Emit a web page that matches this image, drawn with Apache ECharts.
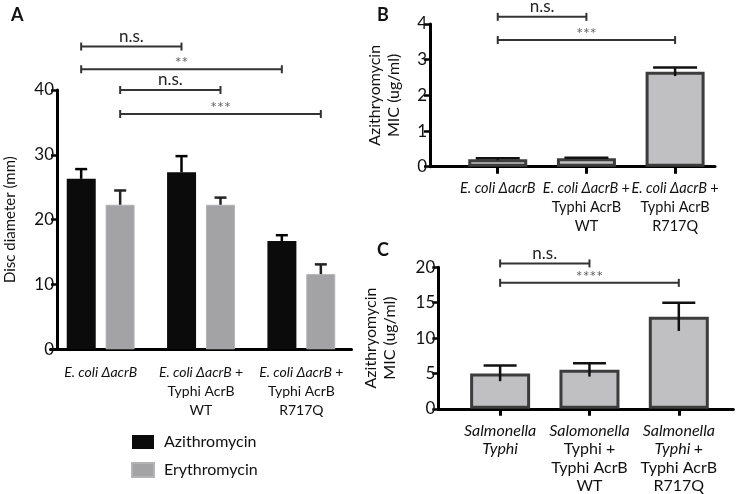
<!DOCTYPE html>
<html>
<head>
<meta charset="utf-8">
<script src="https://cdn.jsdelivr.net/npm/echarts@6/dist/echarts.min.js"></script>
<style>
  html, body { margin: 0; padding: 0; background: #fff; }
  #chart { width: 740px; height: 494px; }
</style>
</head>
<body>
<div id="chart"></div>
<script>
const FONT = 'Lato, "Open Sans", sans-serif';

// ---- Panel A: disc diameter ----
const aCategories = [
  '{i|E. coli ΔacrB}',
  '{i|E. coli ΔacrB} {n|+}\n{n|Typhi AcrB}\n{n|WT}',
  '{i|E. coli ΔacrB} {n|+}\n{n|Typhi AcrB}\n{n|R717Q}'
];
const aAzithro = [26.3, 27.3, 16.7];
const aAzithroErr = [1.5, 2.5, 0.9];
const aErythro = [22.3, 22.3, 11.6];
const aErythroErr = [2.2, 1.1, 1.5];
// [cat1, side1, cat2, side2, y]  side: -1 = Azithromycin bar, +1 = Erythromycin bar
const aBrackets = [[0, -1, 1, -1, 46.7], [0, -1, 2, -1, 43.2], [0, 1, 1, 1, 40.0], [0, 1, 2, 1, 36.3]];
const aBracketLabels = ['n.s.', '**', 'n.s.', '***'];

// ---- Panel B: MIC in E. coli ----
const bCategories = [
  '{i|E. coli ΔacrB}',
  '{i|E. coli ΔacrB} {n|+}\n{n|Typhi AcrB}\n{n|WT}',
  '{i|E. coli ΔacrB} {n|+}\n{n|Typhi AcrB}\n{n|R717Q}'
];
const bValues = [0.21, 0.24, 2.66];
const bErr = [0.03, 0.01, 0.12];
const bBrackets = [[1, 0, 2, 0, 4.2], [1, 0, 3, 0, 3.55]];
const bBracketLabels = ['n.s.', '***'];

// ---- Panel C: MIC in Salmonella ----
const cCategories = [
  '{i|Salmonella}\n{i|Typhi}',
  '{i|Salomonella}\n{n|Typhi +}\n{n|Typhi AcrB}\n{n|WT}',
  '{i|Salmonella}\n{i|Typhi} {n|+}\n{n|Typhi AcrB}\n{n|R717Q}'
];
const cValues = [5.0, 5.5, 13.0];
const cErr = [1.1, 0.95, 2.0];
const cBrackets = [[1, 0, 2, 0, 20.55], [1, 0, 3, 0, 17.8]];
const cBracketLabels = ['n.s.', '****'];

const chart = echarts.init(document.getElementById('chart'));

function errRender(offset, cap, symmetric, color) {
  return function (params, api) {
    const x = api.value(0), m = api.value(1), e = api.value(2);
    const top = api.coord([x, m + e]);
    const base = api.coord([x, symmetric ? m - e : m]);
    const cx = top[0] + offset;
    const st = { stroke: color, lineWidth: 2.5 };
    return {
      type: 'group',
      children: [
        { type: 'line', shape: { x1: cx, y1: base[1], x2: cx, y2: top[1] }, style: st },
        { type: 'line', shape: { x1: cx - cap / 2, y1: top[1], x2: cx + cap / 2, y2: top[1] }, style: st }
      ]
    };
  };
}

function bracketRender(sideOffset, labels) {
  return function (params, api) {
    const y = api.value(4);
    const p1 = api.coord([api.value(0), y]);
    const p2 = api.coord([api.value(2), y]);
    const x1 = p1[0] + api.value(1) * sideOffset;
    const x2 = p2[0] + api.value(3) * sideOffset;
    const py = p1[1];
    const label = labels[params.dataIndex];
    const stars = label.indexOf('*') >= 0;
    const st = { stroke: '#333', lineWidth: 2 };
    return {
      type: 'group',
      children: [
        { type: 'line', shape: { x1: x1, y1: py, x2: x2, y2: py }, style: st },
        { type: 'line', shape: { x1: x1, y1: py - 4, x2: x1, y2: py + 4 }, style: st },
        { type: 'line', shape: { x1: x2, y1: py - 4, x2: x2, y2: py + 4 }, style: st },
        {
          type: 'text', x: (x1 + x2) / 2, y: stars ? py - 6 : py - 10,
          style: {
            text: label, align: 'center', verticalAlign: 'middle',
            fontSize: stars ? 16 : 17, fontFamily: FONT, fill: stars ? '#666' : '#222'
          }
        }
      ]
    };
  };
}

const richLabel = (size, lh) => ({
  i: { fontStyle: 'italic', fontSize: size, fontFamily: FONT, color: '#111', lineHeight: lh },
  n: { fontSize: size, fontFamily: FONT, color: '#111', lineHeight: lh }
});

const yAxisCommon = {
  type: 'value',
  axisLine: { show: true, lineStyle: { color: '#000', width: 3 } },
  axisTick: { show: true, length: 6, lineStyle: { color: '#000', width: 2.5 } },
  axisLabel: { color: '#111', fontSize: 17, fontFamily: FONT, margin: 3 },
  splitLine: { show: false },
  nameLocation: 'middle',
  nameTextStyle: { color: '#111', fontSize: 16, fontFamily: FONT, lineHeight: 19 }
};

function valueXAxis(grid, min, max, labels, margin, size, lh) {
  return {
    type: 'value', gridIndex: grid, min: min, max: max,
    axisLine: { show: true, onZero: false, lineStyle: { color: '#000', width: 3 } },
    axisTick: { show: true, customValues: [1, 2, 3], length: 7, lineStyle: { color: '#000', width: 3 } },
    axisLabel: {
      customValues: [1, 2, 3], margin: margin, align: 'center', hideOverlap: false,
      formatter: v => labels[Math.round(v) - 1] || '',
      rich: richLabel(size, lh)
    },
    splitLine: { show: false }
  };
}

const option = {
  animation: false,
  backgroundColor: '#fff',
  title: [
    { text: 'A', left: 6, top: 1, textStyle: { fontSize: 18, fontWeight: 'bold', fontFamily: FONT, color: '#111' } },
    { text: 'B', left: 372, top: 1, textStyle: { fontSize: 18, fontWeight: 'bold', fontFamily: FONT, color: '#111' } },
    { text: 'C', left: 372, top: 236, textStyle: { fontSize: 18, fontWeight: 'bold', fontFamily: FONT, color: '#111' } }
  ],
  legend: {
    data: ['Azithromycin', 'Erythromycin'],
    orient: 'vertical', left: 126, top: 429,
    icon: 'rect', itemWidth: 22, itemHeight: 14, itemGap: 12,
    textStyle: { fontSize: 16, fontFamily: FONT, color: '#111', padding: [0, 0, 0, 5] }
  },
  grid: [
    { left: 42.5, top: 90, width: 309, height: 259.3 },
    { left: 430, top: 24, width: 285, height: 142.7 },
    { left: 438.3, top: 267.3, width: 295, height: 144.4 }
  ],
  xAxis: [
    {
      type: 'category', gridIndex: 0, data: aCategories,
      axisLine: { lineStyle: { color: '#000', width: 3 } },
      axisTick: { alignWithLabel: true, length: 7, lineStyle: { color: '#000', width: 3 } },
      axisLabel: { margin: 14, interval: 0, hideOverlap: false, rich: richLabel(14, 19) }
    },
    valueXAxis(1, 0.236, 3.45, bCategories, 12, 14.5, 19),
    valueXAxis(2, 0.308, 3.61, cCategories, 12.5, 16, 18.5)
  ],
  yAxis: [
    Object.assign({}, yAxisCommon, { gridIndex: 0, min: 0, max: 40, interval: 10, offset: -6.5,
      name: 'Disc diameter (mm)', nameGap: 37,
      nameTextStyle: Object.assign({}, yAxisCommon.nameTextStyle, { fontSize: 15 }) }),
    Object.assign({}, yAxisCommon, { gridIndex: 1, min: 0, max: 4, interval: 1,
      name: 'Azithryomycin\nMIC (ug/ml)', nameGap: 27 }),
    Object.assign({}, yAxisCommon, { gridIndex: 2, min: 0, max: 20, interval: 5,
      name: 'Azithryomycin\nMIC (ug/ml)', nameGap: 39 })
  ],
  series: [
    {
      name: 'Azithromycin', type: 'bar', xAxisIndex: 0, yAxisIndex: 0,
      data: aAzithro, barWidth: 29, barGap: '34%',
      itemStyle: { color: '#0b0b0b' }
    },
    {
      name: 'Erythromycin', type: 'bar', xAxisIndex: 0, yAxisIndex: 0,
      data: aErythro, barWidth: 29, barGap: '34%',
      itemStyle: { color: '#a3a3a6', borderColor: '#b4b4b6', borderWidth: 1 }
    },
    {
      type: 'custom', xAxisIndex: 0, yAxisIndex: 0, z: 5, encode: { x: 0, y: 1 },
      data: aAzithro.map((v, i) => [i, v, aAzithroErr[i]]),
      renderItem: errRender(-19.5, 12, false, '#000')
    },
    {
      type: 'custom', xAxisIndex: 0, yAxisIndex: 0, z: 5, encode: { x: 0, y: 1 },
      data: aErythro.map((v, i) => [i, v, aErythroErr[i]]),
      renderItem: errRender(19.5, 12, false, '#222')
    },
    {
      type: 'custom', xAxisIndex: 0, yAxisIndex: 0, z: 5, encode: { x: 0, y: 4 },
      data: aBrackets, renderItem: bracketRender(19.5, aBracketLabels)
    },
    {
      type: 'bar', xAxisIndex: 1, yAxisIndex: 1, barWidth: 59,
      data: bValues.map((v, i) => [i + 1, v]),
      itemStyle: { color: '#c0c0c2', borderColor: '#3c3c3c', borderWidth: 3 }
    },
    {
      type: 'custom', xAxisIndex: 1, yAxisIndex: 1, z: 5, encode: { x: 0, y: 1 },
      data: bValues.map((v, i) => [i + 1, v, bErr[i]]),
      renderItem: errRender(0, 44, true, '#111')
    },
    {
      type: 'custom', xAxisIndex: 1, yAxisIndex: 1, z: 5, encode: { x: 0, y: 4 },
      data: bBrackets, renderItem: bracketRender(0, bBracketLabels)
    },
    {
      type: 'bar', xAxisIndex: 2, yAxisIndex: 2, barWidth: 60,
      data: cValues.map((v, i) => [i + 1, v]),
      itemStyle: { color: '#c0c0c2', borderColor: '#3c3c3c', borderWidth: 3 }
    },
    {
      type: 'custom', xAxisIndex: 2, yAxisIndex: 2, z: 5, encode: { x: 0, y: 1 },
      data: cValues.map((v, i) => [i + 1, v, cErr[i]]),
      renderItem: errRender(0, 33, true, '#111')
    },
    {
      type: 'custom', xAxisIndex: 2, yAxisIndex: 2, z: 5, encode: { x: 0, y: 4 },
      data: cBrackets, renderItem: bracketRender(0, cBracketLabels)
    }
  ]
};

chart.setOption(option);
</script>
</body>
</html>
